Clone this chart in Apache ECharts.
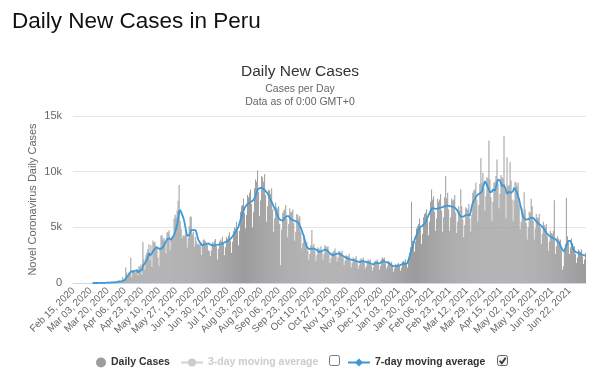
<!DOCTYPE html>
<html>
<head>
<meta charset="utf-8">
<script src="https://cdn.jsdelivr.net/npm/echarts@6/dist/echarts.min.js"></script>
<style>
html,body{margin:0;padding:0;background:#fff;}
#chart{width:600px;height:380px;}
</style>
</head>
<body>
<div id="chart"></div>
<script>
// First category date and month names for the category labels
const startDate = Date.UTC(2020, 1, 15);
const monthNames = ['Jan','Feb','Mar','Apr','May','Jun','Jul','Aug','Sep','Oct','Nov','Dec'];

// Daily new cases (one value per day from Feb 15, 2020)
const dailyCases = [
0,0,0,0,0,0,0,0,0,0,0,0,0,0,0,0,0,0,0,
1,5,1,2,2,4,16,15,5,28,15,31,28,89,29,55,45,32,21,64,100,55,36,181,98,115,
258,91,181,151,535,280,393,1388,914,641,951,671,2265,519,1172,1016,998,931,1208,697,1512,1413,1664,734,3683,2186,1182,2491,2741,3045,
3483,2075,3394,1444,3817,3628,3709,3321,3168,2292,1515,3237,4247,4298,3891,4046,3732,2660,4550,4537,4749,2929,4056,4205,4020,5772,6154,5874,6506,7386,8805,
5563,4845,4030,4284,4202,4358,4757,3181,4040,5087,5965,5961,4383,4604,3256,4164,3752,3480,3537,3413,3598,2511,3363,3879,3913,3762,3625,3430,2946,2848,
2420,2950,3650,3580,3800,3950,3300,2100,3050,3700,
3900,3750,4150,3500,2500,3200,4100,4000,4250,4550,
3800,2700,3700,4650,5000,4900,5500,4700,3400,4700,
6400,6900,7000,7600,6300,4900,6100,7900,7700,8100,
8400,7100,5000,6400,8500,9300,9100,10100,8200,6000,
7400,9600,9500,9100,9800,7900,5500,6900,8400,8300,
8000,8500,6600,4600,5800,7200,6800,6700,6900,5300,
1600,4800,6300,6500,6600,7000,5800,4100,5300,6700,
6300,6400,6600,5400,3800,4600,6200,6100,5800,6000,
4600,3100,3600,4300,3900,3600,3700,2900,2100,2600,
3400,4750,3300,3500,2900,2000,2500,3200,3100,3000,
3300,2800,2100,2600,3400,3300,3200,3300,2600,1800,
2200,2700,2800,2900,3100,2500,1900,2300,2900,2800,
2700,2900,2300,1600,2000,2500,2400,2400,2600,2100,
1400,1800,2300,2200,2200,2400,1800,1300,1600,2100,
2200,2100,2300,1900,1300,1500,2000,2100,2000,2100,
1600,1100,1400,1900,2000,2000,2100,1700,1200,1500,
2100,2300,2200,2300,1800,1300,1500,2000,1900,1800,
1900,1500,1000,1300,1700,1600,1700,1800,1500,1100,
1400,1900,2000,1900,2100,1700,1400,2000,2700,3200,
7300,3800,3500,2800,3700,4900,5100,5300,5800,4900,
3500,4400,5900,6200,6300,6600,5700,4300,5500,7300,
8400,7500,7800,6400,4700,5800,7600,7300,7500,8000,
6500,4600,5900,7700,9600,7600,8100,6600,4700,5900,
7600,7400,7500,7900,6300,4500,5500,6900,6500,8400,
6900,5700,4100,5200,6800,6700,6600,7100,5800,4600,
6100,8100,8300,8400,9000,7500,5500,7000,8900,11200,
9000,9900,8500,6500,7800,9500,9400,12800,9300,7700,
5600,7300,9000,9100,9600,11100,8900,6700,8000,9700,
9500,9400,13200,8300,5800,11300,8700,8800,10900,9200,
7500,5600,7400,9100,9000,8700,9000,7000,4800,5500,
6700,6300,8160,6600,5400,3900,5000,6400,6300,7560,
6900,5600,3900,4900,6200,5900,5800,6200,5000,3500,
4400,5500,5200,5000,5300,4200,2900,3700,4700,4500,
4400,4700,7440,2600,3300,4200,4000,3800,3900,2900,
1200,1500,3100,3500,7650,4200,3600,2600,3200,4000,
3600,3200,3300,2600,1800,2300,3000,2900,2800,3000,
2400,1700,2100,2700
];

// 7-day moving average
const movingAvg7 = [
null,null,null,null,null,null,null,null,null,null,null,null,null,null,null,null,null,null,null,
0,1,1,1,2,2,4,6,6,10,
12,16,20,30,32,39,42,44,43,48,
49,53,50,70,79,93,120,119,137,154,
204,230,270,431,549,615,729,748,1032,1050,
1019,1034,1085,1082,1158,934,1076,1111,1203,1166,
1559,1698,1768,1908,2097,2295,2687,2458,2630,2668,
2857,2984,3079,3055,3212,3054,3064,2981,3070,3154,
3235,3361,3567,3730,3918,3959,4024,3886,3888,3955,
4149,4324,4555,4716,5227,5702,6360,6580,6448,6144,
5917,5588,5155,4577,4237,4122,4273,4513,4764,4768,
4746,4757,4774,4584,4229,3882,3744,3600,3494,3379,
3397,3459,3491,3522,3498,3560,3486,
3450,3400,3370,3350,3370,3400,3430,3440,3440,3450,
3460,3500,3550,3600,3640,3680,3720,3750,3820,3890,
3950,4050,4180,4300,4450,4580,4700,4800,5050,5350,
5650,5950,6250,6480,6700,6880,6980,7080,7180,7230,
7280,7320,7350,7450,7600,7850,8150,8370,8450,8520,
8550,8540,8500,8450,8350,8250,8150,8050,7850,7650,
7480,7280,7080,6880,6680,6480,6300,6130,5800,5700,
5650,5620,5600,5700,5850,5950,6000,6020,6000,5900,
5750,5700,5650,5600,5580,5560,5520,5480,5350,5150,
4950,4700,4450,4200,3800,3450,3250,3100,3050,3060,
3080,3090,3090,3070,3050,3030,2950,2870,2800,2790,
2830,2880,2920,2970,3010,3030,2950,2850,2740,2650,
2570,2500,2480,2530,2580,2610,2640,2660,2650,2600,
2530,2460,2420,2370,2320,2270,2240,2210,2180,2150,
2110,2080,2060,2030,2000,1970,1940,1910,1880,1900,
1930,1960,1970,1940,1910,1880,1860,1840,1820,1780,
1730,1690,1670,1720,1780,1820,1800,1780,1760,1800,
1870,1940,1970,1940,1910,1880,1840,1790,1740,1680,
1610,1560,1520,1500,1500,1510,1530,1550,1560,1600,
1660,1710,1740,1720,1680,1650,1800,2050,2350,2650,
2950,3250,3550,3850,4100,4300,4550,4800,4950,5050,
5100,5150,5250,5350,5500,5700,5900,6100,6300,6500,
6650,6750,6720,6680,6650,6650,6700,6730,6750,6780,
6800,6820,6840,6900,6940,6960,6950,6920,6900,6880,
6860,6850,6840,6780,6700,6600,6450,6250,6050,5980,
5950,5950,5970,6050,6120,6150,6120,6080,6050,6450,
6900,7200,7400,7550,7700,7800,7950,8100,8050,7950,
8200,8550,8850,9150,9000,8800,8700,8400,8150,8000,
8200,8400,8350,8300,8600,9000,9300,9400,9200,8950,
8700,8750,8800,8650,8300,8000,8100,8200,8250,8100,
7950,8250,8550,8450,8300,8100,7800,7500,7100,6700,
6300,5950,5800,5700,5700,5720,5740,5760,5820,5880,
5920,5850,5750,5640,5540,5440,5350,5280,5220,5150,
5100,4950,4800,4650,4500,4400,4300,4250,4180,4120,
4080,4030,3980,3950,3850,3750,3650,3550,3400,3200,
2950,2800,2850,3100,3350,3600,3780,3850,3780,3700,
3350,3000,2850,2800,2760,2720,2680,2640,2600,2570,
2540,2510,2480,2460
];

// 3-day moving average is switched off in the legend (not drawn)
const movingAvg3 = [];

// Y axis ticks and their labels
const yTicks = [0, 5000, 10000, 15000];
const yTickLabels = ['0', '5k', '10k', '15k'];

// Category labels (one per day)
const categories = [];
for (let i = 0; i < dailyCases.length; i++) {
  const d = new Date(startDate + i * 86400000);
  const dd = String(d.getUTCDate()).padStart(2, '0');
  categories.push(monthNames[d.getUTCMonth()] + ' ' + dd + ', ' + d.getUTCFullYear());
}

const FONT = '"Liberation Sans", Arial, Helvetica, sans-serif';
const chart = echarts.init(document.getElementById('chart'), null, {renderer: 'canvas'});
chart.setOption({
  animation: false,
  backgroundColor: '#fff',
  textStyle: {fontFamily: FONT},
  title: [
    {text: 'Daily New Cases in Peru', left: 7, top: 5,
     textStyle: {fontSize: 22.5, fontWeight: 'normal', color: '#111', fontFamily: FONT}},
    {text: 'Daily New Cases', subtext: 'Cases per Day\nData as of 0:00 GMT+0',
     left: 'center', top: 59, itemGap: 3,
     textStyle: {fontSize: 15.5, fontWeight: 'normal', color: '#333', fontFamily: FONT},
     subtextStyle: {fontSize: 10.5, color: '#666', lineHeight: 13, fontFamily: FONT}}
  ],
  grid: {left: 73, right: 14, top: 116, bottom: 97, containLabel: false},
  xAxis: {
    type: 'category',
    data: categories,
    boundaryGap: true,
    axisLine: {lineStyle: {color: '#ccd6eb'}},
    axisTick: {show: false},
    axisLabel: {interval: 16, rotate: 45, fontSize: 10, color: '#666', margin: 6, fontFamily: FONT}
  },
  yAxis: {
    type: 'value',
    min: yTicks[0], max: yTicks[yTicks.length - 1], interval: yTicks[1] - yTicks[0],
    axisLine: {show: false},
    axisTick: {show: false},
    axisLabel: {
      color: '#666', fontSize: 11, margin: 11, fontFamily: FONT,
      formatter: function (v) { const i = yTicks.indexOf(v); return i >= 0 ? yTickLabels[i] : ''; }
    },
    splitLine: {lineStyle: {color: '#e6e6e6'}},
    name: 'Novel Coronavirus Daily Cases',
    nameLocation: 'middle',
    nameGap: 35,
    nameMoveOverlap: false,
    nameTextStyle: {color: '#666', fontSize: 11, fontFamily: FONT}
  },
  legend: [
    {data: [{name: 'Daily Cases', icon: 'circle'}], left: 91, top: 352, itemWidth: 10, itemHeight: 10,
     selectedMode: false, textStyle: {fontWeight: 'bold', fontSize: 10.5, color: '#333', fontFamily: FONT}},
    {data: ['3-day moving average'], left: 175, top: 352, itemWidth: 22, itemHeight: 10,
     selected: {'3-day moving average': false}, inactiveColor: '#ccc',
     textStyle: {fontWeight: 'bold', fontSize: 10.5, color: '#333', fontFamily: FONT}},
    {data: ['7-day moving average'], left: 342, top: 352, itemWidth: 22, itemHeight: 10,
     selectedMode: false, textStyle: {fontWeight: 'bold', fontSize: 10.5, color: '#333', fontFamily: FONT}}
  ],
  graphic: [
    {type: 'rect', x: 329.5, y: 355.5, shape: {x: 0, y: 0, width: 10, height: 10, r: 2},
     style: {fill: '#fff', stroke: '#777', lineWidth: 1}, silent: true},
    {type: 'rect', x: 497.5, y: 355.5, shape: {x: 0, y: 0, width: 10, height: 10, r: 2},
     style: {fill: '#f2f2f2', stroke: '#666', lineWidth: 1}, silent: true},
    {type: 'polyline', x: 497.5, y: 355.5, shape: {points: [[2.2, 5.2], [4.3, 7.8], [8.2, 2.2]]},
     style: {stroke: '#333', lineWidth: 1.8, fill: null}, silent: true}
  ],
  tooltip: {show: false},
  series: [
    {name: 'Daily Cases', type: 'bar', data: dailyCases, barWidth: '50%',
     itemStyle: {color: '#9c9c9c'}, silent: true},
    {name: '3-day moving average', type: 'line', data: movingAvg3, symbol: 'circle',
     itemStyle: {color: '#aaa'}, lineStyle: {color: '#aaa'}, silent: true},
    {name: '7-day moving average', type: 'line', data: movingAvg7, symbol: 'diamond', showSymbol: false,
     symbolSize: 7, itemStyle: {color: '#3d9ad6'}, lineStyle: {color: '#3d9ad6', width: 1.8}, silent: true, z: 5}
  ]
});
</script>
</body>
</html>
